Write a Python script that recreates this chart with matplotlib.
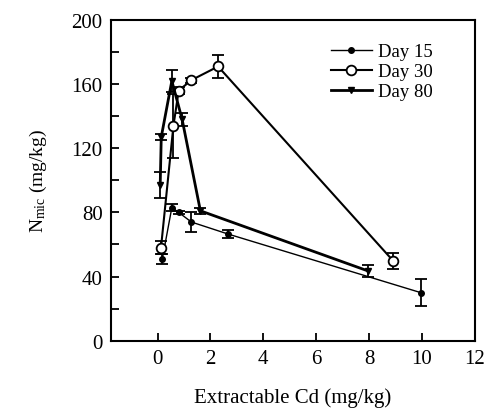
import numpy as np
import matplotlib
matplotlib.use('Agg')
import matplotlib.pyplot as plt
from matplotlib.ticker import MultipleLocator

plt.rcParams['font.family'] = ['Liberation Serif', 'DejaVu Serif']
plt.rcParams['mathtext.fontset'] = 'custom'
plt.rcParams['mathtext.rm'] = 'Liberation Serif'
plt.rcParams['mathtext.it'] = 'Liberation Serif:italic'

# Day 15
x15 = [0.18, 0.54, 0.8, 1.28, 2.67, 9.95]
y15 = [51, 83, 80, 74, 66.5, 30]
e15 = [3, 2, 1, 6, 2.5, 8.5]

# Day 30
x30 = [0.13, 0.6, 0.8, 1.28, 2.29, 8.9]
y30 = [58, 134, 156, 162.5, 171, 50]
e30 = [4, 20, 2, 1.5, 7, 5]

# Day 80
x80 = [0.1, 0.14, 0.54, 0.93, 1.62, 7.96]
y80 = [97, 127, 162, 138, 81, 43.5]
e80 = [8, 2, 7, 4, 2, 4]

fig = plt.figure(figsize=(4.88, 4.10), dpi=100)
ax = fig.add_axes([0.2275, 0.1666, 0.7455, 0.7822])

c15 = ax.errorbar(x15, y15, yerr=e15, color='black', lw=1.0, marker='o', ms=4,
                  mfc='black', capsize=4, elinewidth=1.3, capthick=1.3)
c30 = ax.errorbar(x30, y30, yerr=e30, color='black', lw=1.5, marker='o', ms=7,
                  mfc='white', mew=1.3, capsize=4, elinewidth=1.3, capthick=1.3)
c80 = ax.errorbar(x80, y80, yerr=e80, color='black', lw=2.0, marker='v', ms=4,
                  mfc='black', capsize=4, elinewidth=1.3, capthick=1.3)

ax.set_xlim(-1.76, 12)
ax.set_ylim(0, 200)
ax.set_xticks([0, 2, 4, 6, 8, 10, 12])
ax.set_yticks([0, 40, 80, 120, 160, 200])
ax.yaxis.set_minor_locator(MultipleLocator(20))
ax.tick_params(which='both', direction='in', labelsize=15, width=1.3, length=6)
ax.tick_params(axis='x', pad=6)
ax.tick_params(axis='y', pad=6)
for s in ax.spines.values():
    s.set_linewidth(1.5)

ax.set_xlabel('Extractable Cd (mg/kg)', fontsize=15, labelpad=14)
ax.set_ylabel(r'N$_{\mathrm{mic}}$ (mg/kg)', fontsize=14, labelpad=16)

ax.legend([c15[0], c30[0], c80[0]], ['Day 15', 'Day 30', 'Day 80'],
          loc='upper right', frameon=False, fontsize=13.5, handlelength=2.2,
          handletextpad=0.3, labelspacing=0.15, bbox_to_anchor=(0.93, 0.98))

fig.savefig('out.png', dpi=100)
